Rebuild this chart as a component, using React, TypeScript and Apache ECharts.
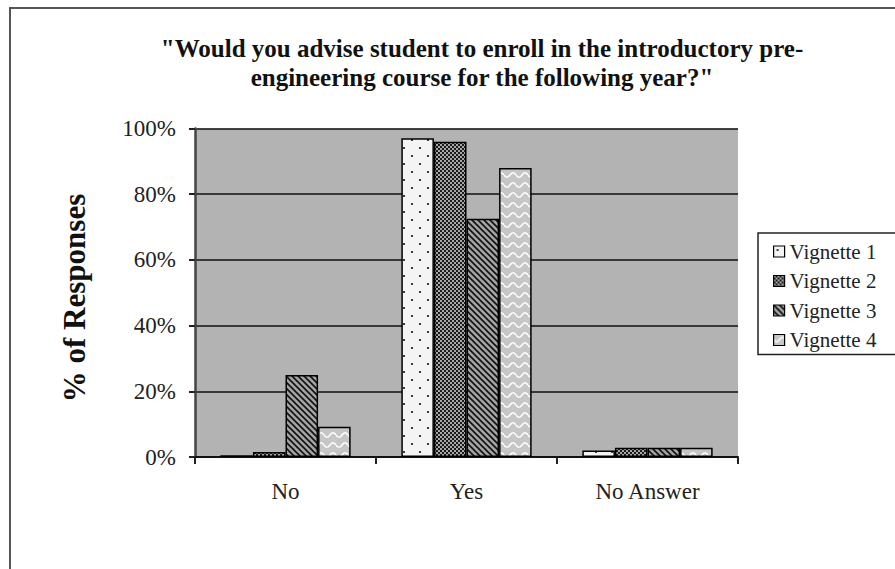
import React, { useEffect, useRef } from 'react';
import * as echarts from 'echarts';

const categories = ['No', 'Yes', 'No Answer'];
const seriesNames = ['Vignette 1', 'Vignette 2', 'Vignette 3', 'Vignette 4'];
const vignette1 = [0.5, 97, 2];
const vignette2 = [1.5, 96, 2.8];
const vignette3 = [25, 72.5, 2.8];
const vignette4 = [9.2, 88, 2.8];
const yMin = 0;
const yMax = 100;
const yInterval = 20;
const titleText = '"Would you advise student to enroll in the introductory pre-\nengineering course for the following year?"';
const yAxisTitle = '% of Responses';

const SERIF = '"Liberation Serif", "Times New Roman", serif';

function makePattern(w: number, h: number, draw: (ctx: CanvasRenderingContext2D) => void) {
  const c = document.createElement('canvas');
  c.width = w;
  c.height = h;
  const ctx = c.getContext('2d') as CanvasRenderingContext2D;
  draw(ctx);
  return { image: c, repeat: 'repeat', imageWidth: w, imageHeight: h } as any;
}

export default function App() {
  const ref = useRef<HTMLDivElement>(null);
  useEffect(() => {
    document.body.style.margin = '0';
    if (!ref.current) return;
    const chart = echarts.init(ref.current, undefined, { renderer: 'svg' });

    const dots = makePattern(16, 16, (ctx) => {
      ctx.fillStyle = '#f4f4f4';
      ctx.fillRect(0, 0, 16, 16);
      ctx.fillStyle = '#111';
      ctx.beginPath(); ctx.arc(4, 4, 1.1, 0, Math.PI * 2); ctx.fill();
      ctx.beginPath(); ctx.arc(12, 12, 1.1, 0, Math.PI * 2); ctx.fill();
    });
    const checker = makePattern(4, 4, (ctx) => {
      ctx.fillStyle = '#1a1a1a';
      ctx.fillRect(0, 0, 4, 4);
      ctx.fillStyle = '#a8a8a8';
      ctx.fillRect(0, 0, 2, 2);
      ctx.fillRect(2, 2, 2, 2);
    });
    const diag = makePattern(6, 6, (ctx) => {
      ctx.fillStyle = '#a4a4a4';
      ctx.fillRect(0, 0, 6, 6);
      ctx.strokeStyle = '#111';
      ctx.lineWidth = 1.6;
      ctx.beginPath();
      ctx.moveTo(-1, -1); ctx.lineTo(7, 7);
      ctx.moveTo(-4, 2); ctx.lineTo(4, 10);
      ctx.moveTo(2, -4); ctx.lineTo(10, 4);
      ctx.stroke();
    });
    const wave = makePattern(12, 10, (ctx) => {
      ctx.fillStyle = '#c6c6c6';
      ctx.fillRect(0, 0, 12, 10);
      ctx.strokeStyle = '#ffffff';
      ctx.lineWidth = 1.5;
      ctx.beginPath();
      for (let x = 0; x <= 12; x += 0.5) {
        const y = 5 + 2.2 * Math.sin((2 * Math.PI * x) / 12);
        if (x === 0) ctx.moveTo(x, y); else ctx.lineTo(x, y);
      }
      ctx.stroke();
    });
    const patterns = [dots, checker, diag, wave];
    const values = [vignette1, vignette2, vignette3, vignette4];

    chart.setOption({
      animation: false,
      backgroundColor: '#ffffff',
      grid: {
        left: 195, right: 157, top: 128.5, bottom: 112,
        show: true, backgroundColor: '#b3b3b3', borderWidth: 0,
      },
      legend: {
        orient: 'vertical',
        left: 758, top: 233,
        padding: [8, 20, 4, 15],
        itemGap: 8.5,
        itemWidth: 11, itemHeight: 11,
        icon: 'rect',
        backgroundColor: '#ffffff',
        borderColor: '#222',
        borderWidth: 1.5,
        textStyle: { fontSize: 21, fontFamily: SERIF, color: '#222' },
        itemStyle: { borderColor: '#000', borderWidth: 1.2 },
        data: seriesNames,
      },
      xAxis: {
        type: 'category',
        data: categories,
        axisLine: { lineStyle: { color: '#111', width: 2 } },
        axisTick: { show: true, alignWithLabel: false, length: 7, lineStyle: { color: '#222', width: 2 } },
        axisLabel: { fontSize: 23, fontFamily: SERIF, color: '#222', margin: 23 },
        splitLine: { show: false },
      },
      yAxis: {
        type: 'value',
        min: yMin, max: yMax, interval: yInterval,
        axisLine: { show: true, lineStyle: { color: '#444', width: 2.5 } },
        axisTick: { show: true, length: 6, lineStyle: { color: '#222', width: 2 } },
        axisLabel: { formatter: '{value}%', fontSize: 23, fontFamily: SERIF, color: '#222', margin: 19 },
        splitLine: { show: true, lineStyle: { color: '#111', width: 1.5 } },
      },
      series: seriesNames.map((name, i) => ({
        name,
        type: 'bar',
        data: values[i],
        barGap: '0%',
        barCategoryGap: '28%',
        itemStyle: { color: patterns[i], borderColor: '#000', borderWidth: 1.5 },
      })),
      graphic: [
        {
          type: 'rect',
          shape: { x: 10, y: 8, width: 1000, height: 1000 },
          style: { fill: 'none', stroke: '#555', lineWidth: 2 },
          silent: true,
        },
        {
          type: 'text',
          x: 482, y: 63,
          style: {
            text: titleText,
            font: 'bold 25px ' + SERIF,
            fill: '#111',
            align: 'center', textAlign: 'center',
            verticalAlign: 'middle', textVerticalAlign: 'middle',
            lineHeight: 29,
          },
        },
        {
          type: 'text',
          x: 74, y: 298,
          rotation: Math.PI / 2,
          style: {
            text: yAxisTitle,
            font: 'bold 31px ' + SERIF,
            fill: '#111',
            align: 'center', textAlign: 'center',
            verticalAlign: 'middle', textVerticalAlign: 'middle',
          },
        },
      ],
    });
    return () => chart.dispose();
  }, []);
  return <div ref={ref} style={{ width: 895, height: 569 }} />;
}
